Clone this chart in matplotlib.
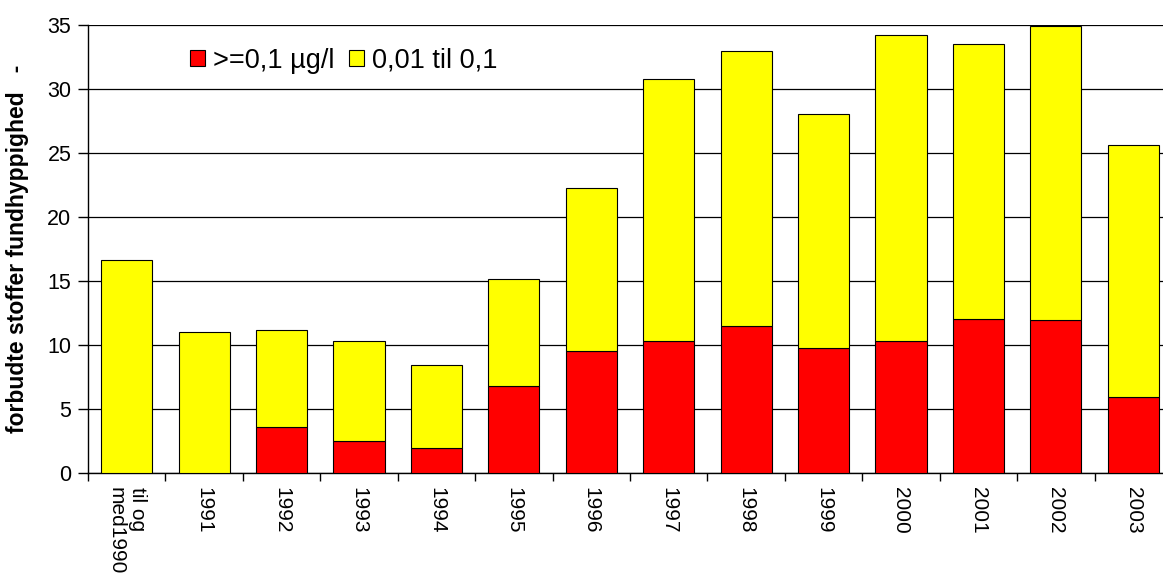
import matplotlib
matplotlib.use("Agg")
import matplotlib.pyplot as plt
import numpy as np

categories = ["til og\nmed1990", "1991", "1992", "1993", "1994", "1995", "1996",
              "1997", "1998", "1999", "2000", "2001", "2002", "2003"]
red_vals = [0, 0, 3.6, 2.5, 1.95, 6.8, 9.55, 10.3, 11.45, 9.8, 10.3, 12.0, 11.95, 5.9]
total_vals = [16.65, 11.0, 11.15, 10.35, 8.45, 15.15, 22.25, 30.8, 33.0, 28.05, 34.2, 33.55, 34.9, 25.6]
yellow_vals = [t - r for t, r in zip(total_vals, red_vals)]
labels = [">=0,1 µg/l", "0,01 til 0,1"]

plt.rcParams['font.family'] = ['Liberation Sans', 'DejaVu Sans']

fig = plt.figure(figsize=(11.63, 5.83), dpi=100)
ax = fig.add_axes([88/1163, 1-473/583, (1172-88)/1163, (473-25)/583])

x = np.arange(len(categories))
ax.bar(x, red_vals, width=0.66, color="#FF0000", edgecolor="black", linewidth=0.8, label=labels[0], zorder=3)
ax.bar(x, yellow_vals, bottom=red_vals, width=0.66, color="#FFFF00", edgecolor="black", linewidth=0.8, label=labels[1], zorder=3)

ax.set_xlim(-0.5, len(categories)-0.5)
ax.set_ylim(0, 35)
ax.set_yticks(np.arange(0, 36, 5))
ax.yaxis.grid(True, color="black", linewidth=0.9, zorder=0)
ax.set_axisbelow(True)

ax.set_xticks(x)
ax.set_xticklabels(categories, rotation=270, fontsize=15, va="top", ha="center", multialignment="left")
ax.tick_params(axis="x", which="major", length=0, pad=10)
ax.set_xticks(np.arange(-0.5, len(categories), 1), minor=True)
ax.tick_params(axis="x", which="minor", length=6, width=1, direction="out", color="black")
ax.tick_params(axis="y", labelsize=15.5, length=7, width=1, direction="out", pad=5)

for s in ["top", "right"]:
    ax.spines[s].set_visible(False)
ax.spines["left"].set_linewidth(1)
ax.spines["bottom"].set_linewidth(1)

ax.set_ylabel("forbudte stoffer fundhyppighed   -", fontsize=16.5, fontweight="bold", labelpad=13)

leg = ax.legend(loc="center left", bbox_to_anchor=(0.094, 0.92), ncol=2, frameon=False,
                fontsize=19.5, handlelength=0.55, handleheight=0.55, handletextpad=0.3,
                columnspacing=0.55, borderpad=0, borderaxespad=0)

fig.savefig("out.png", dpi=100)
